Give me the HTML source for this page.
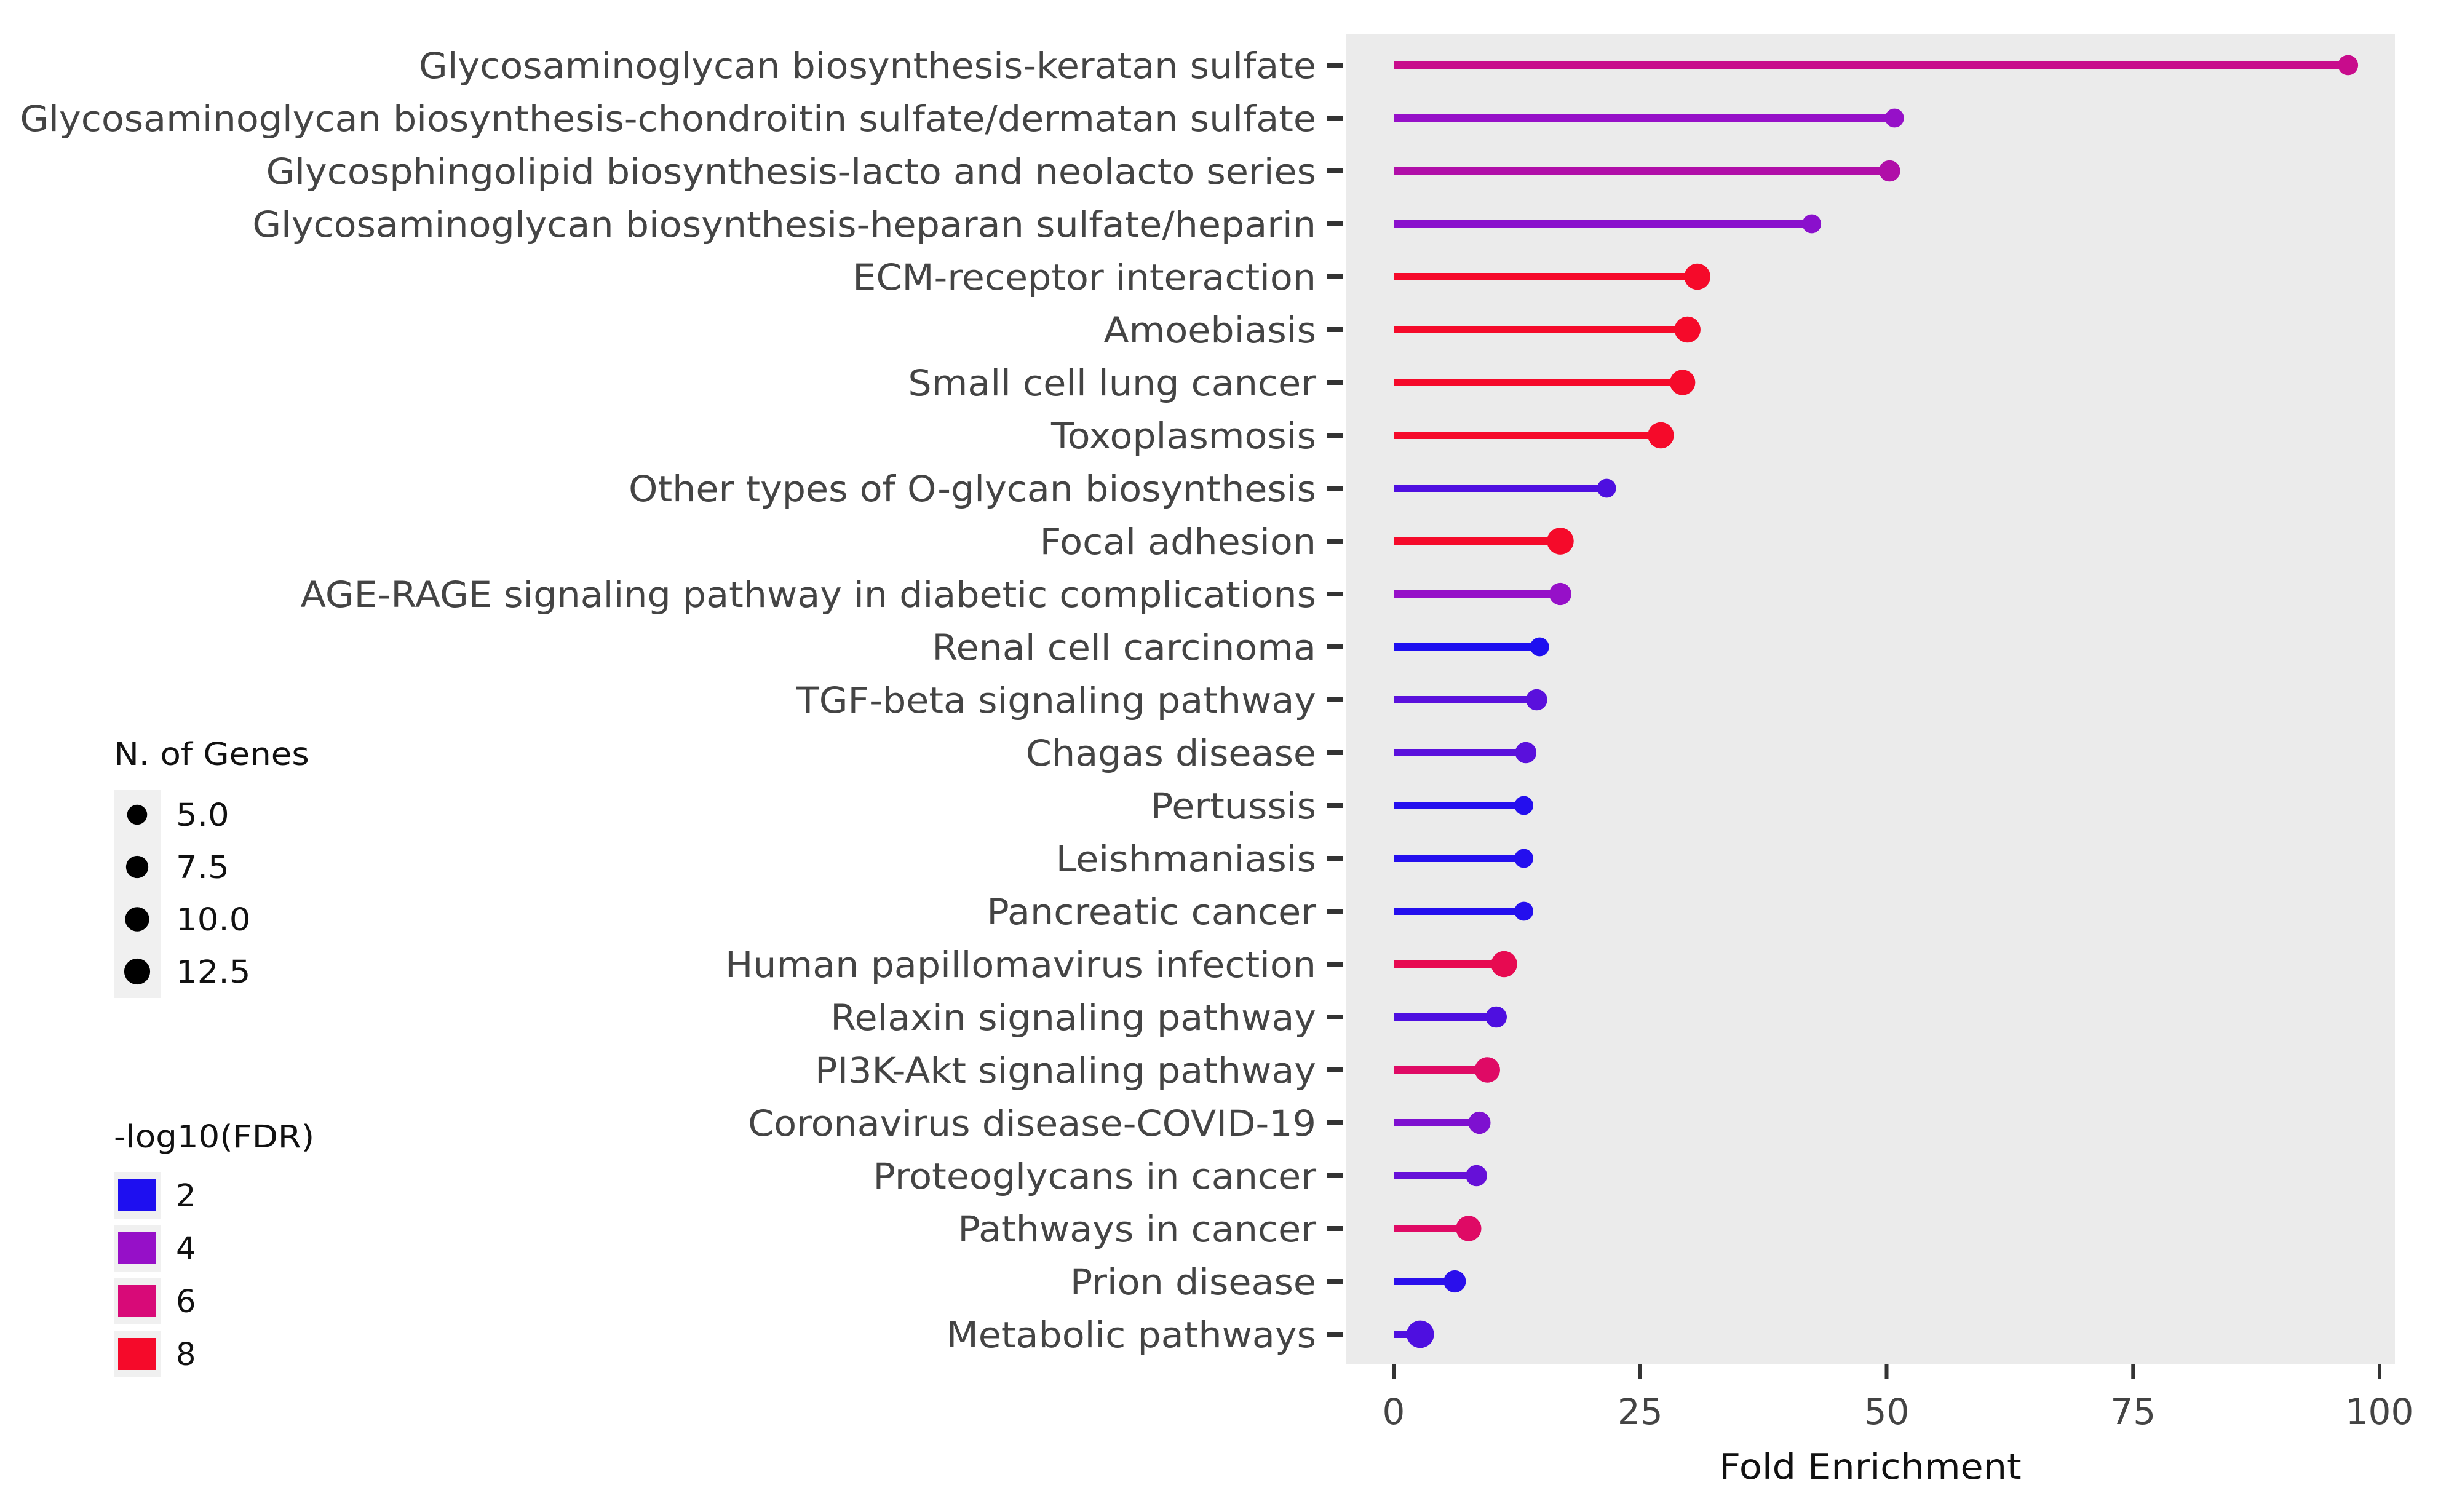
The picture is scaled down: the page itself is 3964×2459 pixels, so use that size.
<!DOCTYPE html>
<html><head><meta charset="utf-8"><style>
html,body{margin:0;padding:0;background:#fff;}
svg{display:block;font-family:"DejaVu Sans","Liberation Sans",sans-serif;}
</style></head><body>
<svg id="chart" width="3964" height="2459" viewBox="0 0 3964 2459" xmlns="http://www.w3.org/2000/svg">
<rect x="2188" y="56" width="1706" height="2162" fill="#ebebeb"/>
<g id="marks"></g>
<g id="yaxis"></g>
<g id="xaxis"></g>
<text x="3041" y="2405" font-size="57" text-anchor="middle" fill="#111" transform="translate(3041,0) scale(1.06,1) translate(-3041,0)">Fold Enrichment</text>
<g>
<text x="185" y="1244" font-size="51" fill="#111" transform="translate(185,0) scale(1.07,1) translate(-185,0)">N. of Genes</text>
<rect x="185" y="1285" width="76" height="338" fill="#f0f0f0"/>
<g id="sizeleg"></g>
</g>
<g>
<text x="185" y="1866" font-size="51" fill="#111" transform="translate(185,0) scale(1.07,1) translate(-185,0)">-log10(FDR)</text>
<g id="colleg"></g>
</g>
</svg>
<script>
const categories=["Glycosaminoglycan biosynthesis-keratan sulfate","Glycosaminoglycan biosynthesis-chondroitin sulfate/dermatan sulfate","Glycosphingolipid biosynthesis-lacto and neolacto series","Glycosaminoglycan biosynthesis-heparan sulfate/heparin","ECM-receptor interaction","Amoebiasis","Small cell lung cancer","Toxoplasmosis","Other types of O-glycan biosynthesis","Focal adhesion","AGE-RAGE signaling pathway in diabetic complications","Renal cell carcinoma","TGF-beta signaling pathway","Chagas disease","Pertussis","Leishmaniasis","Pancreatic cancer","Human papillomavirus infection","Relaxin signaling pathway","PI3K-Akt signaling pathway","Coronavirus disease-COVID-19","Proteoglycans in cancer","Pathways in cancer","Prion disease","Metabolic pathways"];
const foldEnrichment=[96.8,50.8,50.3,42.4,30.8,29.8,29.3,27.1,21.6,16.9,16.9,14.8,14.5,13.4,13.2,13.2,13.2,11.2,10.4,9.5,8.7,8.4,7.6,6.2,2.7];
const nGenes=[4,3,5,3,11,11,10,11,3,12,6,3,5,5,3,3,3,11,5,10,6,5,10,6,13];
const fdr=[5.5,4,4.8,3.8,8,8,8,8,2.8,8,4,2,3,3,2.1,2.1,2.1,7,2.8,6.5,3.6,3.2,6.5,2.2,2.8];
const xTicks=[0,25,50,75,100];
const sizeLegend=[5.0,7.5,10.0,12.5];
const colorLegend=[2,4,6,8];

const NS="http://www.w3.org/2000/svg";
function mk(t,a){const e=document.createElementNS(NS,t);for(const k in a)e.setAttribute(k,a[k]);return e;}
const xS=v=>2266+v*16.03;
const yS=i=>106+i*86;
const rS=n=>9+Math.sqrt(n)*3.7;
const stops=[[1.5,[20,10,245]],[2,[30,15,240]],[4,[150,16,200]],[6,[216,10,120]],[8,[245,10,42]],[9,[250,0,20]]];
function col(v){v=Math.max(1.5,Math.min(9,v));for(let i=0;i<stops.length-1;i++){const a=stops[i],b=stops[i+1];if(v<=b[0]){const t=(v-a[0])/(b[0]-a[0]);const c=a[1].map((x,j)=>Math.round(x+(b[1][j]-x)*t));return `rgb(${c})`;}}return 'rgb(250,0,20)';}

const marks=document.getElementById('marks'),yax=document.getElementById('yaxis'),xax=document.getElementById('xaxis');
categories.forEach((c,i)=>{
  const y=yS(i),x=xS(foldEnrichment[i]),cl=col(fdr[i]);
  const ln=mk('line',{x1:xS(0),x2:x,y1:y,y2:y,stroke:cl,'stroke-width':12});
  
  
  marks.appendChild(ln);
  const dt=mk('circle',{cx:x,cy:y,r:rS(nGenes[i]),fill:cl});
  
  
  marks.appendChild(dt);
  const tk=mk('line',{x1:2158,x2:2184,y1:y,y2:y,stroke:'#333','stroke-width':8});
  
  
  yax.appendChild(tk);
  const tx=mk('text',{x:2140,y:y+21,'font-size':58,'text-anchor':'end',fill:'#444',transform:'translate(2140,0) scale(1.04,1) translate(-2140,0)'});
  tx.textContent=c;
  
  
  yax.appendChild(tx);
});
xTicks.forEach(v=>{
  const x=xS(v);
  const tk=mk('line',{x1:x,x2:x,y1:2218,y2:2242,stroke:'#333','stroke-width':6});
  
  
  xax.appendChild(tk);
  const tx=mk('text',{x:x,y:2316,'font-size':58,'text-anchor':'middle',fill:'#444'});
  tx.textContent=String(v);
  
  
  xax.appendChild(tx);
});
const sl=document.getElementById('sizeleg');
sizeLegend.forEach((v,i)=>{
  const y=1325+i*85;
  const d=mk('circle',{cx:223,cy:y,r:rS(v)-1,fill:'#000'});
  
  
  sl.appendChild(d);
  const t=mk('text',{x:286,y:y+18,'font-size':51,fill:'#111',transform:'translate(286,0) scale(1.07,1) translate(-286,0)'});
  t.textContent=v.toFixed(1);
  
  
  sl.appendChild(t);
});
const cg=document.getElementById('colleg');
colorLegend.forEach((v,i)=>{
  const y=1944+i*86;
  const bg=mk('rect',{x:185,y:y-38,width:76,height:76,fill:'#f0f0f0'});
  
  
  cg.appendChild(bg);
  const r=mk('rect',{x:192,y:y-26,width:62,height:52,fill:col(v)});
  
  
  cg.appendChild(r);
  const t=mk('text',{x:286,y:y+18,'font-size':51,fill:'#111'});
  t.textContent=String(v);
  
  
  cg.appendChild(t);
});
</script>
</body></html>
